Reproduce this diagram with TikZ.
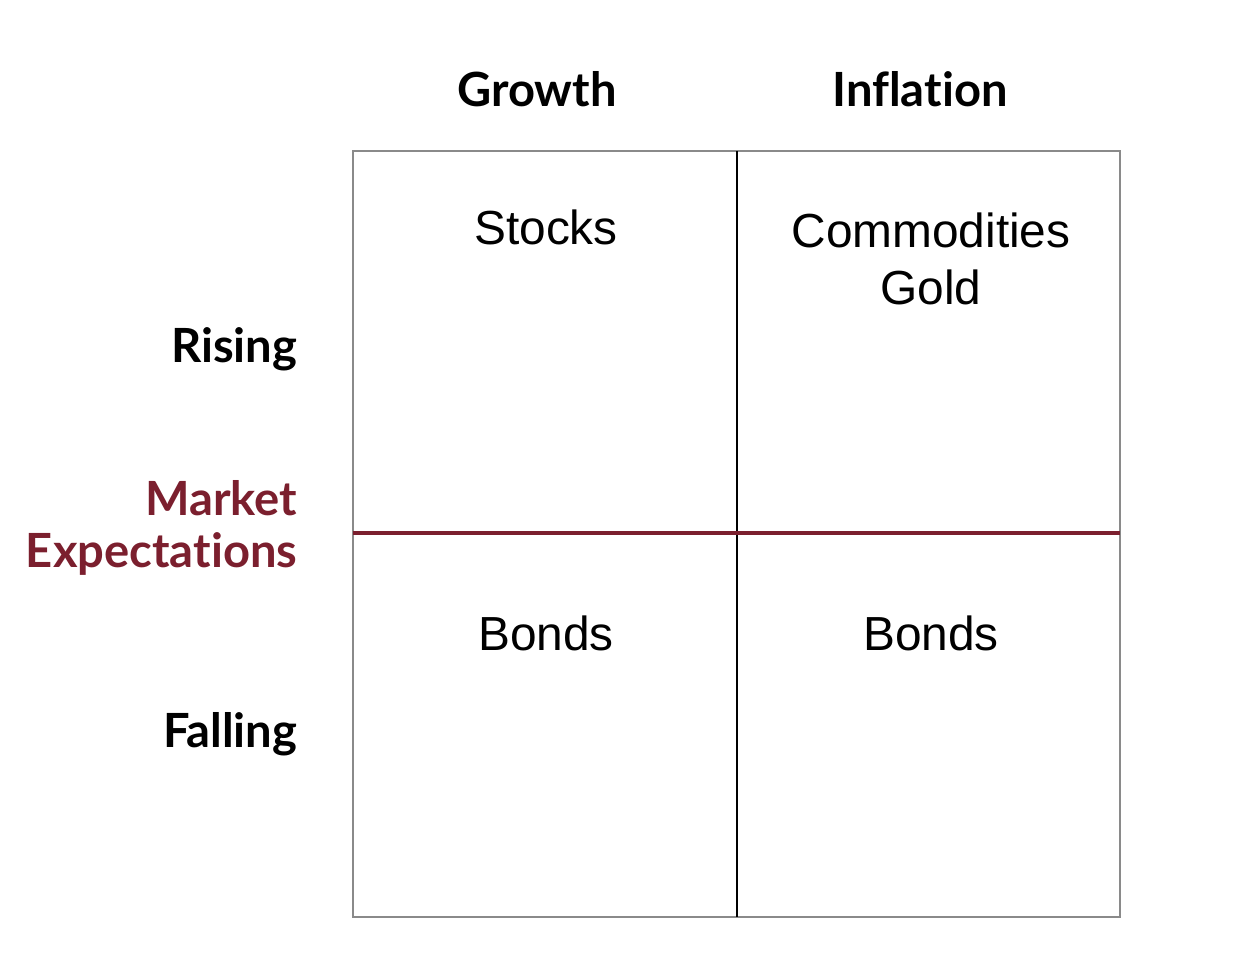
\documentclass[tikz,border=0pt]{standalone}
\usepackage{fontspec}
\setmainfont{Liberation Sans}
\newfontfamily\latofont[Ligatures=NoCommon]{Lato}
\usepackage{tikz}
\usetikzlibrary{positioning}

\definecolor{mktred}{HTML}{7B1F2E}
\definecolor{framegray}{HTML}{8A8A8A}

\begin{document}
\begin{tikzpicture}[
    x=0.01cm, y=-0.01cm,
    head/.style={font=\latofont\bfseries\fontsize{13.4}{15}\selectfont, anchor=base, inner sep=0pt},
    side/.style={font=\latofont\bfseries\fontsize{13.4}{14.8}\selectfont, anchor=base east, align=right, inner sep=0pt},
    asset/.style={font=\fontsize{13.6}{16.4}\selectfont, anchor=base, align=center, inner sep=0pt}
]

    % Canvas
    \useasboundingbox (0, 0) rectangle (1258, 980);

    % Corners of the grid
    \coordinate (tl) at (353, 151);
    \coordinate (br) at (1120, 917);
    \coordinate (mt) at (737, 151);
    \coordinate (mb) at (737, 917);
    \coordinate (ml) at (353, 533);
    \coordinate (mr) at (1120, 533);

    % Grid
    \draw[framegray, line width=0.6pt] (tl) rectangle (br);
    \draw[black, line width=0.45pt] (mt) -- (mb);
    \draw[mktred, line width=1.15pt] (ml) -- (mr);

    % Column heads
    \node[head] (growth) at (537, 107) {Growth};
    \node[head] (inflation) at (920, 107) {Inflation};

    % Row heads (multi-line nodes sit on their last line)
    \node[side] (rising) at (298, 363) {Rising};
    \node[side, mktred] (market) at (298, 568) {Market\\Expectations};
    \node[side] (falling) at (298, 748) {Falling};

    % Cells
    \node[asset] (stocks) at (546, 245) {Stocks};
    \node[asset] (commod) at (931, 305) {Commodities\\Gold};
    \node[asset] (bondsgr) at (546, 651) {Bonds};
    \node[asset] (bondsin) at (931, 651) {Bonds};

\end{tikzpicture}
\end{document}
